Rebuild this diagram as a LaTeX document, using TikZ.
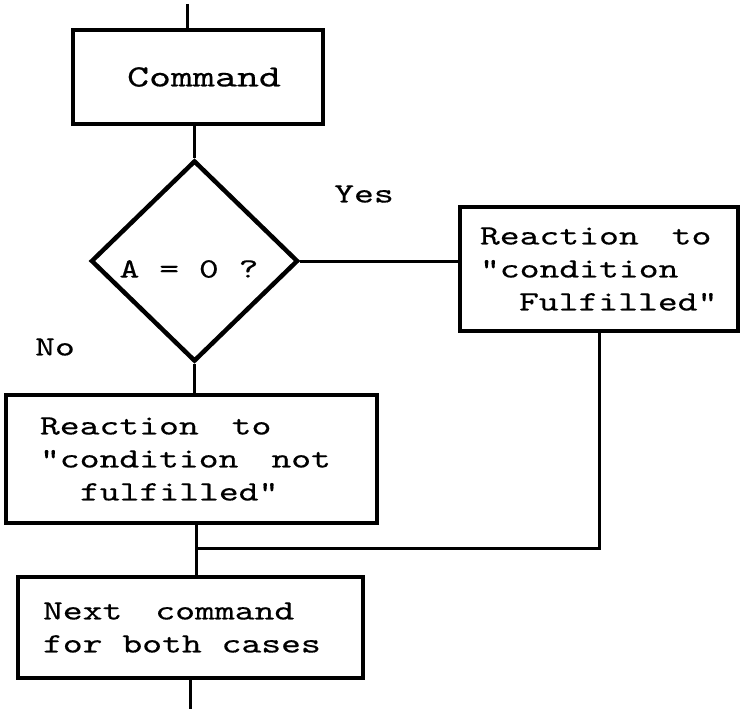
\documentclass[tikz,border=0pt]{standalone}
\usepackage{fontspec}
\usetikzlibrary{shapes.geometric}
% wide typewriter face for all labels
\newfontfamily\cour{lmmono10-regular}[Extension=.otf, FakeStretch=1.35, FakeBold=0.4]
% fixed monospace word gaps
\newcommand\sk{\hspace{19.85pt}}
\newcommand\wsp{\hspace{33pt}}
\begin{document}
\begin{tikzpicture}[x=1pt,y=-1pt,line join=miter,
  box/.style={draw, line width=3.2pt, inner ysep=0pt,
              font=\cour\fontsize{28}{33}\selectfont},
  decision/.style={draw, diamond, line width=4.5pt, inner sep=0pt},
  wire/.style={line width=3pt},
  lbl/.style={font=\cour\fontsize{28}{33}\selectfont, inner sep=0pt}]
\useasboundingbox[fill=white] (0,0) rectangle (744,709);

% boxes
\node[box, minimum width=250, minimum height=94,
      font=\cour\fontsize{31}{33}\selectfont] (cmd) at (198,77)
  {\hspace*{12pt}Command};
\node[decision, minimum width=207, minimum height=201] (dec) at (194.5,261) {};
\node[lbl] (q) at (189,269) {A\sk=\sk0\sk?};
\node[box, text width=238, inner xsep=20, minimum height=124, align=left]
  (yesbox) at (599,269)
  {Reaction\wsp to\\"condition\\\hspace*{39pt}Fulfilled"};
\node[box, text width=303, inner xsep=34, minimum height=128, align=left]
  (nobox) at (191.5,459)
  {Reaction\wsp to\\"condition\wsp not\\\hspace*{40pt}fulfilled"};
\node[box, text width=295, inner xsep=25, minimum height=101, align=left]
  (next) at (190.5,627.5)
  {Next\wsp command\\for\sk both\sk cases};

% branch labels
\node[lbl] (yes) at (364,194) {Yes};
\node[lbl] (no) at (55,347) {No};

% connectors
\coordinate (top) at (187,4);
\coordinate (join) at (196,548);
\coordinate (bot) at (190,709);
\draw[wire] (top) -- (top |- cmd.north);
\draw[wire] (dec.north |- cmd.south) -- (dec.north);
\draw[wire] (dec.east) -- (dec.east -| yesbox.west);
\draw[wire] (dec.south) -- (dec.south |- nobox.north);
\draw[wire] (yesbox.south) |- (join);
\draw[wire] (join |- nobox.south) -- (join |- next.north);
\draw[wire] (bot |- next.south) -- (bot);
\end{tikzpicture}
\end{document}
